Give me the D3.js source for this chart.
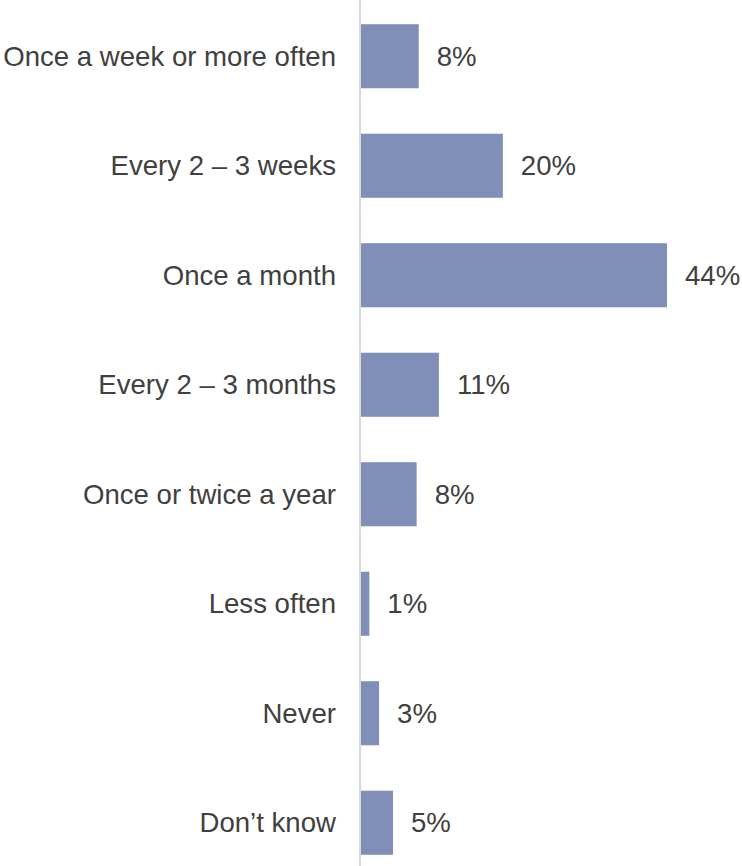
<!DOCTYPE html>
<html>
<head>
<meta charset="utf-8">
<script src="https://cdn.jsdelivr.net/npm/d3@7"></script>
<style>
  html, body { margin: 0; padding: 0; background: #fff; }
</style>
</head>
<body>
<div id="chart"></div>
<script>
const width = 742;
const height = 866;
const margin = { top: 0, right: 0, bottom: 0, left: 360 };

// Frequency categories, top to bottom
const categories = [
    "Once a week or more often",
    "Every 2 \u2013 3 weeks",
    "Once a month",
    "Every 2 \u2013 3 months",
    "Once or twice a year",
    "Less often",
    "Never",
    "Don\u2019t know"
];
// Share of respondents (%)
const values = [8.3, 20.4, 44.0, 11.2, 8.0, 1.2, 2.6, 4.6];
// Labels as printed on the chart
const valueLabels = ["8%", "20%", "44%", "11%", "8%", "1%", "3%", "5%"];

const svg = d3.select("#chart")
    .append("svg")
    .attr("width", width)
    .attr("height", height);

// Scales
const xScale = d3.scaleLinear()
    .domain([0, 44])
    .range([margin.left + 1, 667]);

const yScale = d3.scaleBand()
    .domain(categories)
    .range([1.5, 877.5])
    .paddingInner(0.415)
    .paddingOuter(0.2075);

const fontFamily = "'Liberation Sans', Arial, sans-serif";
const fontSize = 27.6;

// Bars
svg.selectAll("rect.bar")
    .data(values)
    .enter()
    .append("rect")
    .attr("class", "bar")
    .attr("x", xScale(0))
    .attr("y", (d, i) => yScale(categories[i]))
    .attr("width", d => xScale(d) - xScale(0))
    .attr("height", yScale.bandwidth())
    .attr("fill", "#7f8fb8");

// Vertical axis line
svg.append("line")
    .attr("x1", margin.left)
    .attr("x2", margin.left)
    .attr("y1", 0)
    .attr("y2", 866)
    .attr("stroke", "#d9d9d9")
    .attr("stroke-width", 2);

// Category labels
svg.selectAll("text.cat")
    .data(categories)
    .enter()
    .append("text")
    .attr("class", "cat")
    .attr("x", margin.left - 24)
    .attr("y", d => yScale(d) + yScale.bandwidth() / 2)
    .attr("dy", "0.35em")
    .attr("text-anchor", "end")
    .attr("font-family", fontFamily)
    .attr("font-size", fontSize)
    .attr("fill", "#404040")
    .text(d => d);

// Value labels
svg.selectAll("text.val")
    .data(values)
    .enter()
    .append("text")
    .attr("class", "val")
    .attr("x", d => xScale(d) + 18)
    .attr("y", (d, i) => yScale(categories[i]) + yScale.bandwidth() / 2)
    .attr("dy", "0.35em")
    .attr("font-family", fontFamily)
    .attr("font-size", fontSize)
    .attr("fill", "#404040")
    .text((d, i) => valueLabels[i]);
</script>
</body>
</html>
